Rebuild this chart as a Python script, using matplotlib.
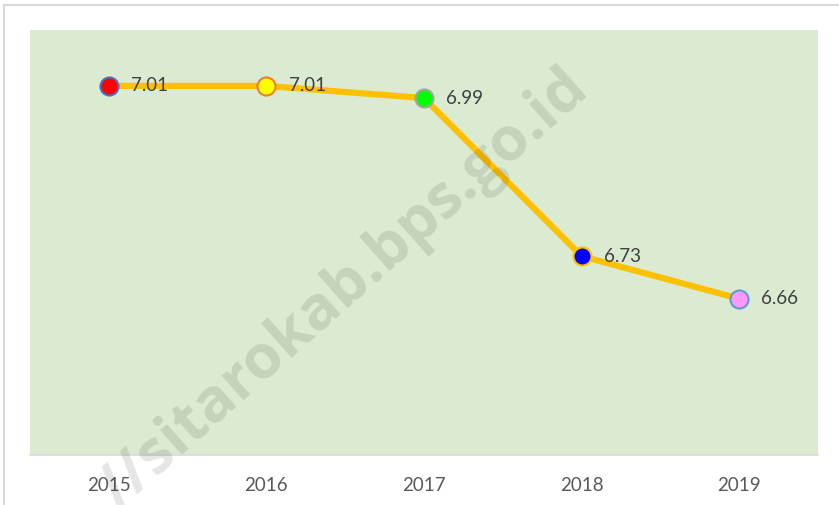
import matplotlib.pyplot as plt
from matplotlib.lines import Line2D

plt.rcParams['font.family'] = ['Lato', 'DejaVu Sans']

# data
years = ['2015', '2016', '2017', '2018', '2019']
values = [7.01, 7.01, 6.99, 6.73, 6.66]
labels = ['7.01', '7.01', '6.99', '6.73', '6.66']
face_colors = ['#FF0000', '#FFFF00', '#00FF00', '#0000FF', '#FF99FF']
edge_colors = ['#4472C4', '#ED7D31', '#A5A5A5', '#FFC000', '#5B9BD5']

fig = plt.figure(figsize=(8.39, 5.05), dpi=100)
ax = fig.add_axes([30 / 839, 50 / 505, 788 / 839, 425 / 505])
ax.set_facecolor('#DBEBD1')

x = list(range(len(years)))
ax.plot(x, values, color='#FFC000', linewidth=4.5, zorder=2, solid_capstyle='round')
for i, v in enumerate(values):
    ax.plot(i, v, marker='o', markersize=13, markerfacecolor=face_colors[i],
            markeredgecolor=edge_colors[i], markeredgewidth=1.5, zorder=3)
    ax.annotate(labels[i], (i, v), xytext=(16, 0), textcoords='offset points',
                va='center', ha='left', fontsize=13.5, color='#404040', zorder=4)

ax.set_xlim(-0.5, 4.5)
ax.set_ylim(6.403, 7.102)
ax.set_xticks(x)
ax.set_xticklabels(years, fontsize=13.5, color='#595959')
ax.set_yticks([])
ax.tick_params(axis='x', length=0, pad=16)
for side in ['top', 'right', 'left']:
    ax.spines[side].set_visible(False)
ax.spines['bottom'].set_color('#D9D9D9')
ax.spines['bottom'].set_linewidth(1.2)

# outer border of the chart (left and top visible)
fig.add_artist(Line2D([4 / 839, 4 / 839], [0, 1 - 5 / 505], color='#D9D9D9', linewidth=1.5))
fig.add_artist(Line2D([4 / 839, 1], [1 - 5 / 505, 1 - 5 / 505], color='#D9D9D9', linewidth=1.5))

# watermark
fig.text(345 / 839, 1 - 290 / 505, '//sitarokab.bps.go.id', rotation=41.5,
         fontsize=44, fontweight='bold', color='black', alpha=0.1,
         ha='center', va='center', rotation_mode='anchor', zorder=1,
         family=['Open Sans', 'DejaVu Sans'])

fig.savefig('out.png', dpi=100)
